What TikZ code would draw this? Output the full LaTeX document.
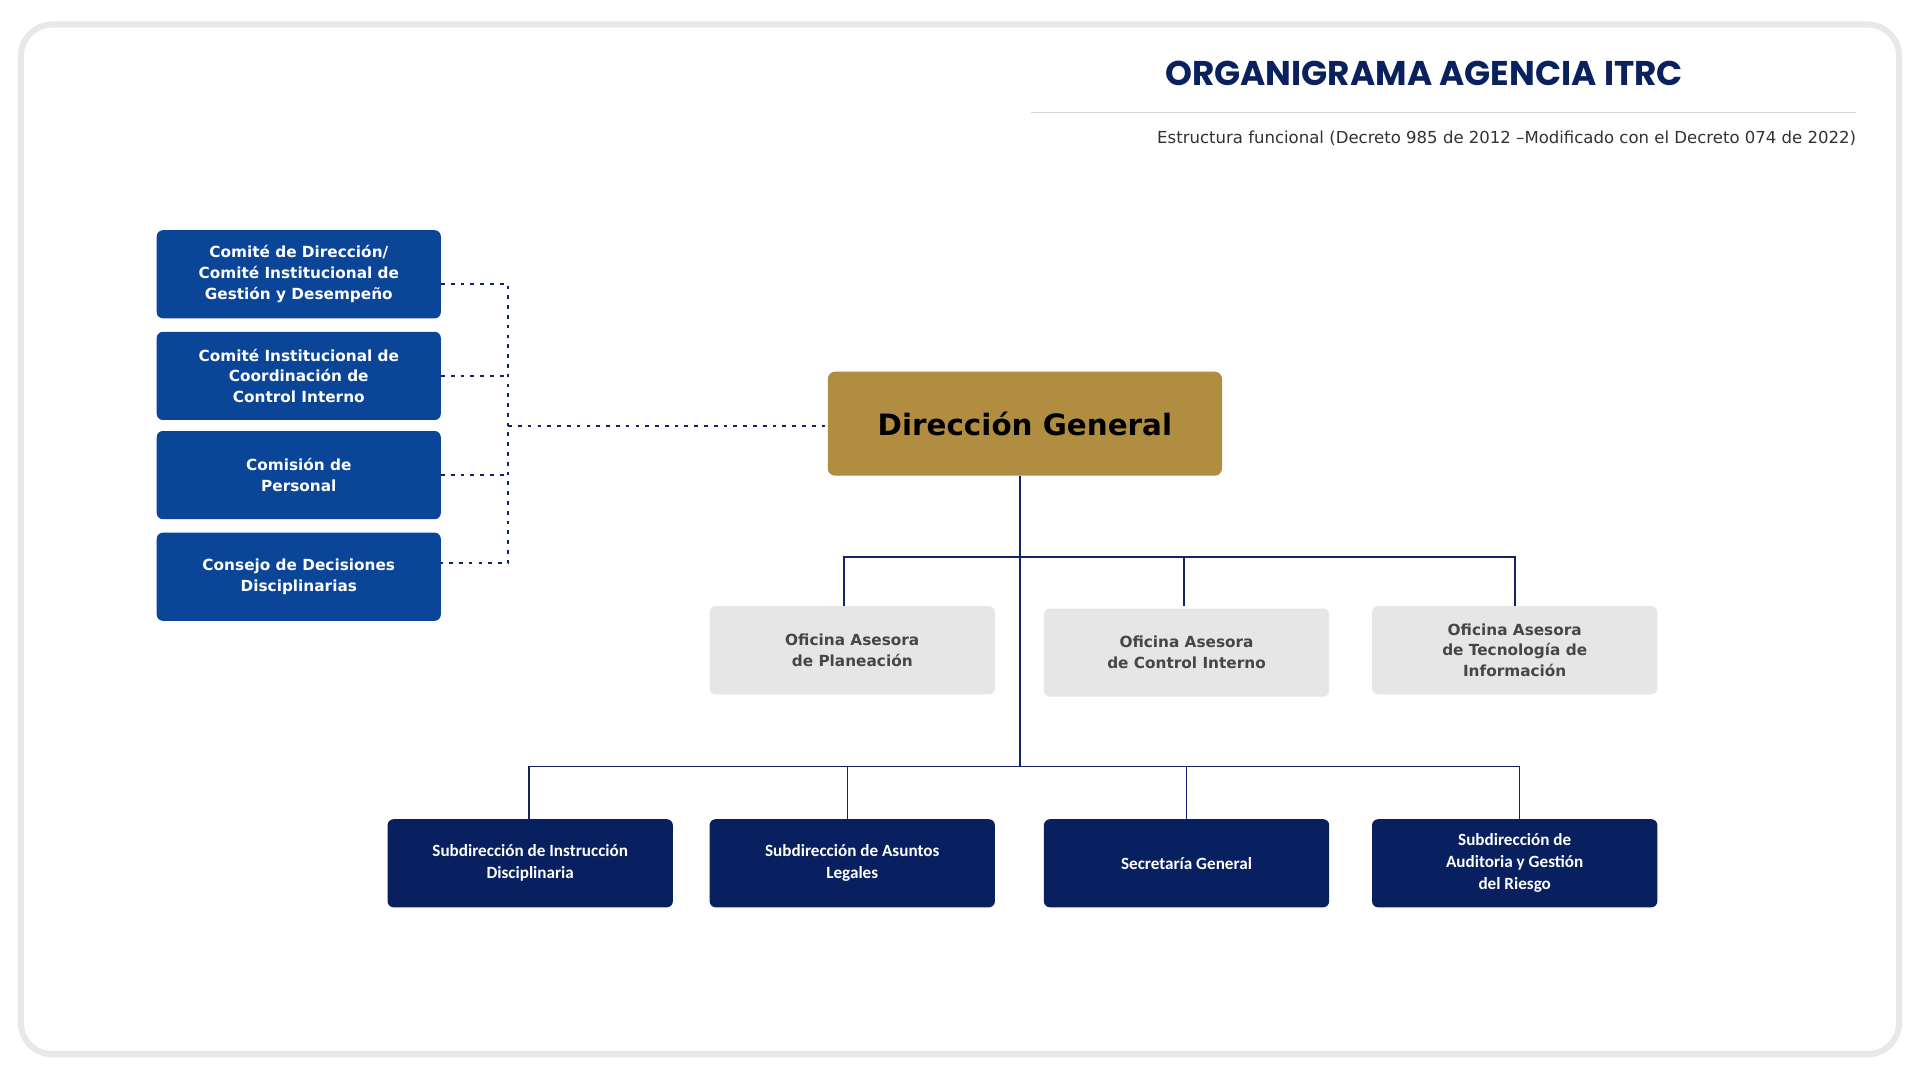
\documentclass[tikz,border=0pt]{standalone}
\usepackage{fontspec}
\setmainfont{DejaVu Sans}
\newfontfamily\tfont{Poppins}
\newfontfamily\cfont{Carlito}
\begin{document}
\begin{tikzpicture}[x=1pt,y=-1pt,
 lb/.style={draw=none,fill={rgb,255:red,11;green,69;blue,152},rounded corners=5pt,text=white,font=\bfseries\fontsize{12.5}{17}\selectfont,align=center,minimum width=232pt,minimum height=72pt,inner sep=0pt},
 gb/.style={fill={rgb,255:red,230;green,230;blue,230},rounded corners=5pt,text={rgb,255:red,70;green,70;blue,70},font=\bfseries\fontsize{12.5}{17}\selectfont,align=center,minimum width=233pt,minimum height=72pt,inner sep=0pt},
 nb/.style={fill={rgb,255:red,8;green,32;blue,96},rounded corners=5pt,text=white,font=\cfont\bfseries\fontsize{14}{18}\selectfont,align=center,minimum width=233pt,minimum height=72pt,inner sep=0pt},
 ln/.style={draw={rgb,255:red,20;green,35;blue,100},line width=1.4pt},
 dl/.style={draw={rgb,255:red,20;green,35;blue,100},line width=1.3pt,dash pattern=on 3pt off 5pt}]
\useasboundingbox (0,0) rectangle (1568,882);
\draw[line width=5pt,draw={rgb,255:red,232;green,232;blue,232},fill=white,rounded corners=26pt] (17,20) rectangle (1551,861);
\node (t) at (1163,60) {\tfont\bfseries\fontsize{28}{32}\selectfont\color[RGB]{10,33,95}ORGANIGRAMA AGENCIA ITRC};
\draw[line width=1.2pt,draw={rgb,255:red,215;green,215;blue,215}] (842,92) -- (1516,92);
\node[anchor=east,inner sep=0pt,text={rgb,255:red,50;green,50;blue,50},font=\fontsize{13.5}{16}\selectfont] (s) at (1516,113) {Estructura funcional (Decreto 985 de 2012 –Modificado con el Decreto 074 de 2022)};
\node[lb] (l1) at (244,224) {Comité de Dirección/\\Comité Institucional de\\Gestión y Desempeño};
\node[lb] (l2) at (244,307) {Comité Institucional de\\Coordinación de\\Control Interno};
\node[lb] (l3) at (244,388) {Comisión de\\Personal};
\node[lb] (l4) at (244,471) {Consejo de Decisiones\\Disciplinarias};
\node[fill={rgb,255:red,176;green,141;blue,64},rounded corners=6pt,minimum width=322pt,minimum height=85pt,font=\bfseries\fontsize{24}{28}\selectfont] (dg) at (837,346) {Dirección General};
\coordinate (v1) at (415,232); \coordinate (v4) at (415,460); \coordinate (vm) at (415,348);
\draw[dl] (l1.east|-v1) -- (v1) -- (v4) -- (l4.east|-v4);
\draw[dl] (l2.east) -- (l2.east-|v1);
\draw[dl] (l3.east) -- (l3.east-|v1);
\draw[dl] (vm) -- (dg.west|-vm);
\node[gb] (g1) at (696,531) {Oficina Asesora\\de Planeación};
\node[gb] (g2) at (969,533) {Oficina Asesora\\de Control Interno};
\node[gb] (g3) at (1237,531) {Oficina Asesora\\de Tecnología de\\Información};
\node[nb] (n1) at (433,705) {Subdirección de Instrucción\\Disciplinaria};
\node[nb] (n2) at (696,705) {Subdirección de Asuntos\\Legales};
\node[nb] (n3) at (969,705) {Secretaría General};
\node[nb] (n4) at (1237,705) {Subdirección de\\Auditoria y Gestión\\del Riesgo};
\coordinate (j1) at (833,455); \coordinate (j2) at (833,626);
\draw[ln] (dg.south-|j1) -- (j2);
\draw[ln] (689,495) -- (689,455) -- (1237,455) -- (1237,495);
\draw[ln] (967,455) -- (967,495);
\draw[ln] (432,669) -- (432,626) -- (1241,626) -- (1241,669);
\draw[ln] (692,626) -- (692,669);
\draw[ln] (969,626) -- (969,669);
\end{tikzpicture}
\end{document}
